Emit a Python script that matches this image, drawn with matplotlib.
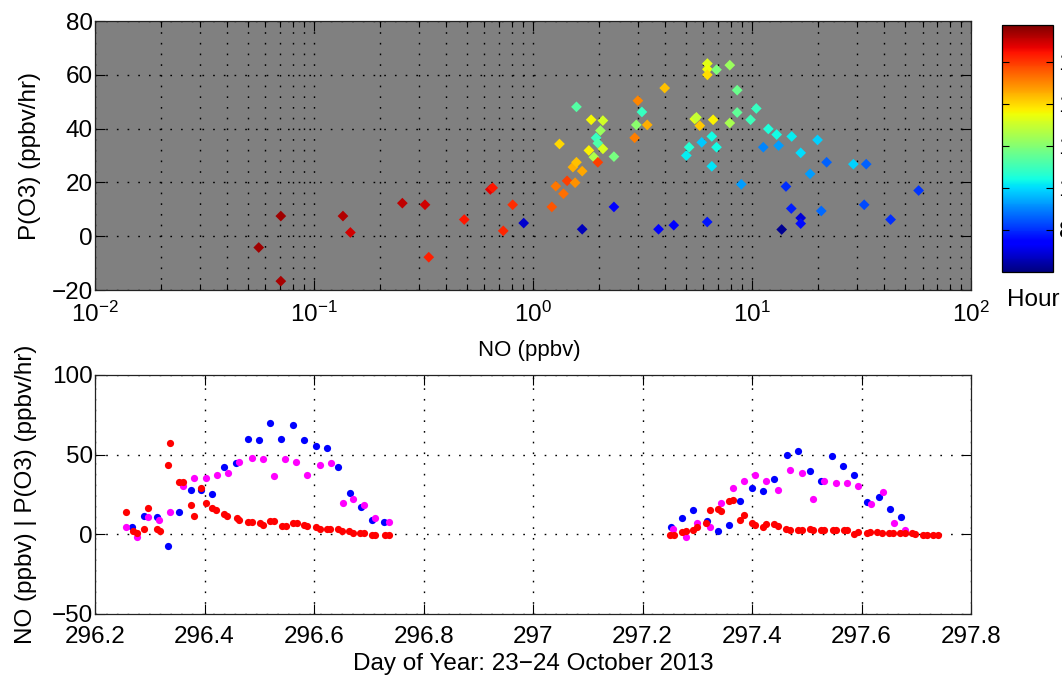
import numpy as np
import matplotlib
matplotlib.use('Agg')
import matplotlib.pyplot as plt
from matplotlib.ticker import LogLocator, NullFormatter

plt.rcParams['font.family'] = ['Liberation Sans', 'DejaVu Sans']
plt.rcParams['mathtext.fontset'] = 'custom'
plt.rcParams['mathtext.rm'] = 'Liberation Sans'
plt.rcParams['mathtext.it'] = 'Liberation Sans:italic'
plt.rcParams['mathtext.bf'] = 'Liberation Sans:bold'
plt.rcParams['mathtext.default'] = 'regular'

# ---------------- top panel data: P(O3) vs NO, coloured by hour ----------------
no_top = [0.0559, 0.0705, 0.0705, 0.1355, 0.1465, 0.253, 0.321, 0.334, 0.485, 0.638,
          0.654, 0.731, 0.807, 0.906, 1.218, 1.27, 1.376, 1.43, 1.556, 1.676,
          1.676, 1.52, 1.578, 1.32, 1.578, 1.842, 1.798, 1.895, 1.94, 1.976,
          2.084, 2.03, 1.976, 2.084, 2.34, 2.34, 3.01, 3.14, 2.96, 3.32,
          2.91, 3.99, 3.74, 4.39, 6.25, 6.25, 6.25, 6.88, 7.91, 8.55,
          5.47, 5.57, 5.77, 6.64, 7.91, 8.55, 9.84, 10.45, 11.86, 12.95,
          15.17, 19.9, 6.55, 5.89, 6.88, 5.16, 5.01, 6.55, 11.25, 13.22,
          16.67, 21.9, 18.4, 29.0, 33.2, 8.93, 14.28, 57.6, 15.1, 20.7,
          32.5, 16.67, 16.67, 13.65, 42.9, 6.24]
po3_top = [-4.2, 7.5, -16.7, 7.5, 1.4, 12.3, 11.7, -7.8, 6.2, 17.4,
           18.0, 2.0, 11.7, 4.9, 10.9, 18.6, 15.8, 20.6, 19.9, 2.6,
           24.2, 25.7, 27.5, 34.3, 48.1, 43.3, 31.9, 29.4, 36.6, 27.5,
           43.0, 39.3, 34.6, 32.5, 29.6, 10.9, 50.4, 46.2, 41.4, 41.4,
           36.6, 55.1, 2.6, 4.1, 64.2, 62.1, 60.0, 61.9, 63.6, 54.3,
           43.6, 44.2, 41.1, 43.3, 42.1, 46.0, 43.3, 47.5, 39.9, 37.8,
           37.1, 35.8, 37.1, 34.9, 33.1, 33.1, 30.0, 26.0, 33.1, 33.7,
           31.0, 27.5, 23.2, 26.8, 26.8, 19.3, 18.5, 17.0, 10.3, 9.4,
           11.7, 6.8, 4.7, 2.5, 6.2, 5.3]
hour_top = [17.4, 17.4, 17.3, 17.2, 16.9, 17.1, 16.9, 16.3, 16.4, 16.7,
            16.4, 16.2, 16.1, 6.8, 15.6, 15.2, 15.3, 15.9, 14.9, 6.6,
            14.6, 14.5, 14.3, 14.0, 11.3, 13.6, 13.7, 12.6, 10.9, 15.9,
            13.1, 12.3, 11.2, 13.2, 11.8, 7.3, 15.0, 10.9, 12.1, 14.5,
            15.1, 14.3, 7.4, 7.5, 13.3, 13.5, 13.9, 11.9, 12.3, 11.6,
            13.3, 12.9, 14.2, 13.7, 12.5, 11.5, 11.0, 10.9, 10.5, 10.4,
            10.2, 9.9, 10.4, 9.8, 10.4, 10.6, 10.2, 10.1, 9.0, 9.3,
            10.0, 8.6, 9.3, 9.9, 8.6, 9.3, 8.0, 8.1, 7.8, 8.7,
            8.3, 6.9, 7.6, 6.2, 8.0, 7.7]

# ---------------- bottom panel data: time series ----------------
no_time = [296.256, 296.269, 296.277, 296.289, 296.297, 296.314, 296.318, 296.333, 296.337, 296.354,
           296.361, 296.375, 296.381, 296.394, 296.402, 296.414, 296.421, 296.435, 296.441, 296.460,
           296.462, 296.480, 296.487, 296.501, 296.506, 296.520, 296.527, 296.541, 296.548, 296.561,
           296.568, 296.582, 296.588, 296.604, 296.610, 296.624, 296.630, 296.644, 296.651, 296.664,
           296.671, 296.684, 296.691, 296.705, 296.711, 296.730, 296.736,
           297.250, 297.258, 297.272, 297.279, 297.292, 297.299, 297.316, 297.323, 297.338, 297.344,
           297.357, 297.365, 297.378, 297.385, 297.399, 297.406, 297.420, 297.426, 297.440, 297.447,
           297.462, 297.469, 297.484, 297.491, 297.505, 297.512, 297.525, 297.532, 297.547, 297.554,
           297.567, 297.574, 297.587, 297.593, 297.609, 297.616, 297.629, 297.637, 297.650, 297.657,
           297.671, 297.679, 297.692, 297.698, 297.712, 297.719, 297.731, 297.739]
no_val = [13.8, 2.3, 0.8, 3.2, 16.3, 3.4, 1.9, 43.4, 57.6, 32.8,
          32.6, 18.4, 11.6, 29.0, 19.7, 16.3, 15.0, 12.7, 11.4, 10.2,
          9.2, 7.8, 7.8, 6.8, 5.7, 8.1, 8.1, 5.5, 5.5, 6.8,
          6.8, 5.7, 5.5, 4.7, 3.4, 3.2, 3.2, 3.4, 2.3, 1.9,
          0.6, 1.0, 1.0, -0.2, -0.2, -0.2, -0.2,
          -0.4, -0.4, 1.2, 2.0, 2.7, 4.5, 7.3, 15.2, 16.2, 14.6,
          21.0, 21.8, 9.1, 12.1, 7.3, 5.9, 4.8, 6.4, 6.2, 5.1,
          3.5, 2.7, 2.5, 2.5, 3.1, 2.5, 2.5, 2.5, 2.5, 2.5,
          2.5, 2.5, 0.4, 1.7, 1.0, 1.6, 1.6, 1.0, 0.8, 0.8,
          0.8, 1.0, 0.8, 0.0, -0.4, -0.4, -0.4, -0.4]

po3_a_time = [296.268, 296.289, 296.314, 296.333, 296.354, 296.375, 296.394, 296.414, 296.435, 296.458,
              296.479, 296.500, 296.520, 296.540, 296.561, 296.581, 296.604, 296.624, 296.644, 296.665,
              296.686, 296.705, 296.728,
              297.252, 297.272, 297.292, 297.317, 297.337, 297.357, 297.378, 297.399, 297.420, 297.440,
              297.464, 297.484, 297.505, 297.526, 297.546, 297.566, 297.587, 297.610, 297.631, 297.651,
              297.672]
po3_a_val = [4.7, 11.6, 10.8, -7.4, 13.8, 27.9, 27.9, 25.6, 42.3, 44.7,
             60.1, 58.9, 69.7, 60.1, 68.4, 58.9, 55.2, 54.0, 42.3, 25.8,
             17.4, 9.1, 7.8,
             4.8, 10.4, 15.2, 8.3, 2.3, 5.6, 21.0, 28.9, 26.9, 35.0,
             50.0, 52.3, 39.6, 33.5, 48.9, 43.1, 37.5, 20.0, 23.3, 16.2,
             10.6]

po3_b_time = [296.256, 296.276, 296.297, 296.317, 296.337, 296.361, 296.381, 296.402, 296.422, 296.442,
              296.462, 296.486, 296.506, 296.527, 296.547, 296.567, 296.587, 296.611, 296.631, 296.652,
              296.672, 296.691, 296.712, 296.736,
              297.256, 297.279, 297.299, 297.324, 297.344, 297.365, 297.385, 297.406, 297.426, 297.447,
              297.470, 297.491, 297.511, 297.532, 297.553, 297.573, 297.593, 297.618, 297.639, 297.659,
              297.680]
po3_b_val = [4.7, -1.7, 10.6, 9.1, 13.8, 30.5, 35.1, 35.1, 37.5, 38.7,
             45.7, 48.1, 47.0, 36.4, 47.0, 45.7, 37.5, 43.4, 44.7, 19.7,
             22.2, 18.6, 10.4, 7.8,
             3.5, -1.5, 7.3, 4.8, 19.6, 28.9, 33.5, 37.1, 33.5, 27.9,
             40.6, 38.3, 21.9, 33.5, 32.5, 32.5, 30.2, 18.8, 26.6, 6.9,
             2.7]

bottom_xticks = [296.2, 296.4, 296.6, 296.8, 297.0, 297.2, 297.4, 297.6, 297.8]
bottom_xticklabels = ['296.2', '296.4', '296.6', '296.8', '297', '297.2', '297.4', '297.6', '297.8']
bottom_yticks = [-50, 0, 50, 100]
top_yticks = [-20, 0, 20, 40, 60, 80]
cbar_ticks = [8, 10, 12, 14, 16]

FS = 17.5
grid_kw = dict(color='black', linestyle=(0, (1.2, 6.5)), linewidth=1.0)

fig = plt.figure(figsize=(10.62, 6.77), dpi=100)

# ---------------- top panel ----------------
ax1 = fig.add_axes([0.0895, 0.5716, 0.8249, 0.3973])
ax1.set_facecolor((0.5, 0.5, 0.5))
sc = ax1.scatter(no_top, po3_top, c=hour_top, cmap='jet', vmin=6, vmax=17.75,
                 marker='D', s=30, edgecolors='none', zorder=3)
ax1.set_xscale('log')
ax1.set_xlim(1e-2, 1e2)
ax1.set_ylim(-20, 80)
ax1.set_yticks(top_yticks)
ax1.xaxis.set_major_locator(LogLocator(base=10, numticks=10))
ax1.xaxis.set_minor_locator(LogLocator(base=10, subs=np.arange(2, 10), numticks=10))
ax1.xaxis.set_minor_formatter(NullFormatter())
ax1.grid(True, which='major', **grid_kw)
ax1.grid(True, which='minor', axis='x', **grid_kw)
ax1.set_axisbelow(True)
ax1.tick_params(which='both', direction='in', top=True, right=True, labelsize=FS)
ax1.tick_params(which='major', length=7, width=0.8)
ax1.tick_params(which='minor', length=4.5, width=0.8)
ax1.tick_params(axis='x', which='both', pad=8.5)
ax1.tick_params(axis='y', which='both', pad=1.5)
for s in ax1.spines.values():
    s.set_linewidth(0.9)
    s.set_color('#222222')
ax1.set_xlabel('NO (ppbv)', fontsize=16)
ax1.xaxis.set_label_coords(0.496, -0.186)
ax1.set_ylabel('P(O3) (ppbv/hr)', fontsize=FS)
ax1.yaxis.set_label_coords(-0.0616, 0.5)

# colorbar
cax = fig.add_axes([0.9435, 0.5982, 0.048, 0.3649])
cb = fig.colorbar(sc, cax=cax, ticks=cbar_ticks)
cb.ax.tick_params(direction='in', left=True, right=True, length=5, width=0.8,
                  labelsize=FS, pad=4)
cb.outline.set_linewidth(0.9)
fig.text(1033.5 / 1062, 1 - 300 / 677, 'Hour', ha='center', va='center', fontsize=FS)

# ---------------- bottom panel ----------------
ax2 = fig.add_axes([0.0895, 0.0931, 0.8249, 0.353])
ax2.plot(po3_a_time, po3_a_val, 'o', color=(0, 0, 1), ms=5.2, mec='none', zorder=3)
ax2.plot(po3_b_time, po3_b_val, 'o', color=(1, 0, 1), ms=5.2, mec='none', zorder=3)
ax2.plot(no_time, no_val, 'o', color=(1, 0, 0), ms=5.2, mec='none', zorder=3)
ax2.set_xlim(296.2, 297.8)
ax2.set_ylim(-50, 100)
ax2.set_xticks(bottom_xticks)
ax2.set_xticklabels(bottom_xticklabels)
ax2.set_yticks(bottom_yticks)
ax2.grid(True, which='major', **grid_kw)
ax2.set_axisbelow(True)
ax2.tick_params(which='both', direction='in', top=True, right=True, labelsize=FS,
                length=7, width=0.8)
ax2.tick_params(axis='x', pad=8.5)
ax2.tick_params(axis='y', pad=1.5)
for s in ax2.spines.values():
    s.set_linewidth(0.9)
    s.set_color('#222222')
ax2.set_xlabel('Day of Year: 23\u221224 October 2013', fontsize=FS)
ax2.xaxis.set_label_coords(0.5, -0.165)
ax2.set_ylabel('NO (ppbv) | P(O3) (ppbv/hr)', fontsize=FS)
ax2.yaxis.set_label_coords(-0.066, 0.5)

fig.savefig('out.png', dpi=100)
